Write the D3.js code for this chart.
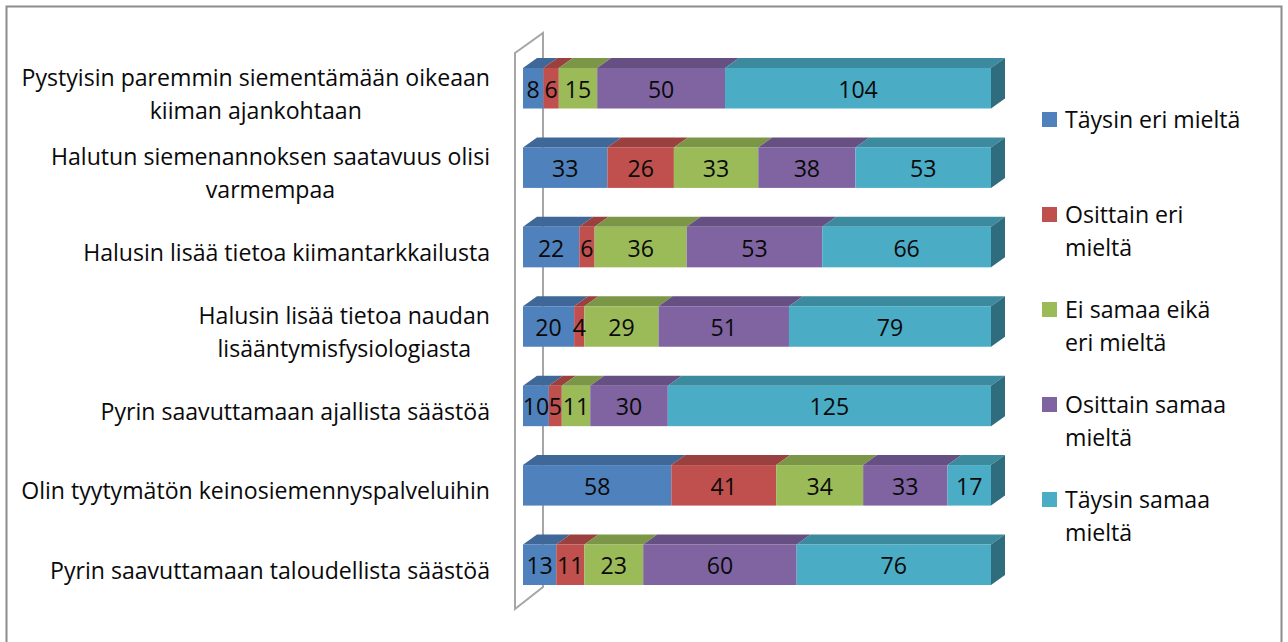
<!DOCTYPE html>
<html>
  <head>
    <meta charset="utf-8">
    <title>Kiimantarkkailu</title>
    <script src="https://d3js.org/d3.v7.min.js"></script>
    <style>
      body { margin: 0; background: #fff; }
      svg { display: block; }
      text { font-family: "Open Sans", sans-serif; font-size: 23.1px; fill: #0a0a0a; }
    </style>
  </head>
  <body>
    <div id="chart"></div>
    <script>
      // data, top row first
      const categories = [
        ["Pystyisin paremmin siementämään oikeaan", "kiiman ajankohtaan"],
        ["Halutun siemenannoksen saatavuus olisi", "varmempaa"],
        ["Halusin lisää tietoa kiimantarkkailusta"],
        ["Halusin lisää tietoa naudan", "lisääntymisfysiologiasta"],
        ["Pyrin saavuttamaan ajallista säästöä"],
        ["Olin tyytymätön keinosiemennyspalveluihin"],
        ["Pyrin saavuttamaan taloudellista säästöä"]
      ];
      const taysinEri = [8, 33, 22, 20, 10, 58, 13];
      const osittainEri = [6, 26, 6, 4, 5, 41, 11];
      const eiSamaaEikaEri = [15, 33, 36, 29, 11, 34, 23];
      const osittainSamaa = [50, 38, 53, 51, 30, 33, 60];
      const taysinSamaa = [104, 53, 66, 79, 125, 17, 76];
      const legendLines = [
        ["Täysin eri mieltä"],
        ["Osittain eri", "mieltä"],
        ["Ei samaa eikä", "eri mieltä"],
        ["Osittain samaa", "mieltä"],
        ["Täysin samaa", "mieltä"]
      ];

      const seriesValues = [taysinEri, osittainEri, eiSamaaEikaEri, osittainSamaa, taysinSamaa];
      const frontColors = ["#4f81bd", "#c0504d", "#9bbb59", "#8064a2", "#4bacc6"];
      const topColors = ["#3f6797", "#9a403e", "#7c9647", "#664f82", "#3c8a9e"];
      const sideColor = "#2f6d7e";
      const width = 1288, height = 642;
      const depthX = 14, depthY = 10;

      const svg = d3.select("#chart").append("svg")
        .attr("width", width)
        .attr("height", height);

      // outer frame, the bottom edge is cropped off in the original
      svg.append("path")
        .attr("d", "M6.5,642V6.5H1281.5V642")
        .attr("fill", "none")
        .attr("stroke", "#8c8c8c")
        .attr("stroke-width", 2);

      const rows = categories.map(function(c, i) {
        return { index: i, values: seriesValues.map(function(s) { return s[i]; }) };
      });
      const stack = d3.stack()
        .keys(d3.range(seriesValues.length))
        .value(function(d, k) { return d.values[k]; })
        .offset(d3.stackOffsetExpand);
      const layers = stack(rows);

      const x = d3.scaleLinear().domain([0, 1]).range([523, 991]);
      const y = d3.scaleBand()
        .domain(d3.range(categories.length))
        .range([68, 585])
        .paddingInner(0.49)
        .paddingOuter(0);

      // back wall behind the bars
      const wallTop = y(0) - 35, wallBottom = y(6) + y.bandwidth() + 2;
      svg.append("path")
        .attr("d", "M" + (x(0) - 8) + "," + (wallTop + 20)
          + "L" + (x(0) + 20) + "," + wallTop
          + "V" + wallBottom
          + "L" + (x(0) - 8) + "," + (wallBottom + 22)
          + "Z")
        .attr("fill", "none")
        .attr("stroke", "#a6a6a6")
        .attr("stroke-width", 2);

      // bars
      const layer = svg.selectAll(".layer")
        .data(layers)
        .enter().append("g")
          .attr("class", "layer");

      layer.selectAll(".top")
        .data(function(l) { return l.map(function(d) { return { k: l.key, d: d }; }); })
        .enter().append("path")
          .attr("class", "top")
          .attr("fill", function(e) { return topColors[e.k]; })
          .attr("d", function(e) {
            const x0 = x(e.d[0]), x1 = x(e.d[1]), yy = y(e.d.data.index);
            return "M" + x0 + "," + yy + "L" + (x0 + depthX) + "," + (yy - depthY)
              + "H" + (x1 + depthX) + "L" + x1 + "," + yy + "Z";
          });

      layer.selectAll(".front")
        .data(function(l) { return l.map(function(d) { return { k: l.key, d: d }; }); })
        .enter().append("rect")
          .attr("class", "front")
          .attr("fill", function(e) { return frontColors[e.k]; })
          .attr("x", function(e) { return x(e.d[0]); })
          .attr("y", function(e) { return y(e.d.data.index); })
          .attr("width", function(e) { return x(e.d[1]) - x(e.d[0]); })
          .attr("height", y.bandwidth());

      // right hand end of each bar
      svg.selectAll(".side")
        .data(rows)
        .enter().append("path")
          .attr("class", "side")
          .attr("fill", sideColor)
          .attr("d", function(d) {
            const yy = y(d.index), xx = x(1);
            return "M" + xx + "," + yy + "L" + (xx + depthX) + "," + (yy - depthY)
              + "V" + (yy - depthY + y.bandwidth()) + "L" + xx + "," + (yy + y.bandwidth()) + "Z";
          });

      // value labels
      svg.selectAll(".valueGroup")
        .data(layers)
        .enter().append("g")
          .attr("class", "valueGroup")
        .selectAll(".value")
        .data(function(l) { return l.map(function(d) { return { k: l.key, d: d }; }); })
        .enter().append("text")
          .attr("class", "value")
          .attr("text-anchor", "middle")
          .attr("x", function(e) { return (x(e.d[0]) + x(e.d[1])) / 2; })
          .attr("y", function(e) { return y(e.d.data.index) + y.bandwidth() / 2 + 9.5; })
          .text(function(e) { return e.d.data.values[e.k]; });

      // category labels, lines centred inside a right aligned block
      const labelRight = 490, lineHeight = 33;
      const label = svg.selectAll(".cat")
        .data(categories)
        .enter().append("text")
          .attr("class", "cat")
          .attr("text-anchor", "middle");
      label.each(function(lines, i) {
        const el = d3.select(this);
        const mid = y(i) + y.bandwidth() / 2 + 14;
        lines.forEach(function(line, j) {
          el.append("tspan")
            .attr("y", mid + (j - (lines.length - 1) / 2) * lineHeight)
            .text(line);
        });
        const w = d3.max(el.selectAll("tspan").nodes(), function(n) { return n.getComputedTextLength(); });
        el.selectAll("tspan").attr("x", labelRight - w / 2);
      });

      // legend
      const legendY = d3.scalePoint()
        .domain(d3.range(legendLines.length))
        .range([112, 492]);
      const legend = svg.selectAll(".legend")
        .data(legendLines)
        .enter().append("g")
          .attr("class", "legend")
          .attr("transform", function(d, i) { return "translate(1042," + legendY(i) + ")"; });
      legend.append("rect")
        .attr("width", 15)
        .attr("height", 15)
        .attr("fill", function(d, i) { return frontColors[i]; });
      legend.append("text")
        .selectAll("tspan")
        .data(function(d) { return d; })
        .enter().append("tspan")
          .attr("x", 23)
          .attr("y", function(d, j) { return 16 + j * 33; })
          .text(function(d) { return d; });
    </script>
  </body>
</html>
